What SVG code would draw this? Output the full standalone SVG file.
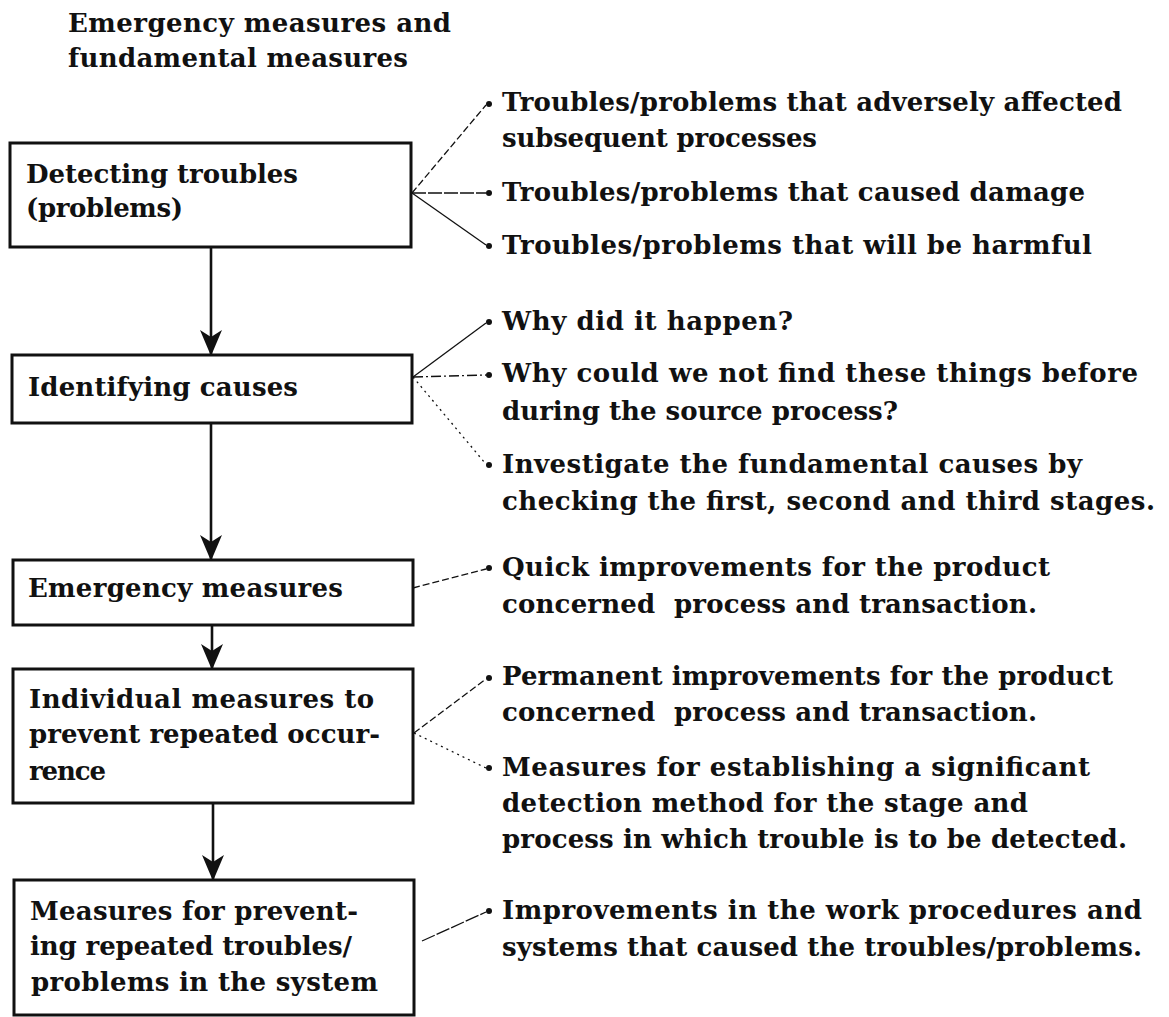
<svg xmlns="http://www.w3.org/2000/svg" width="1169" height="1017" viewBox="0 0 1169 1017">
  <style>
    text { font-family: "DejaVu Serif", "Liberation Serif", serif; font-weight: bold; font-size: 26px; fill: #111; }
    .box { fill: #fff; stroke: #111; stroke-width: 3; }
    .flow { stroke: #111; stroke-width: 2.6; fill: none; marker-end: url(#ah); }
    .lead { stroke: #111; stroke-width: 1.3; fill: none; }
    .long { stroke-dasharray: 14 2; }
    .dash { stroke-dasharray: 7 3; }
    .dashdot { stroke-dasharray: 10 3 2 3; }
    .dot { stroke-dasharray: 2 4; }
    .bullet { fill: #111; }
  </style>
  <defs>
    <marker id="ah" viewBox="0 0 26 22" refX="25" refY="11" markerWidth="26" markerHeight="22" markerUnits="userSpaceOnUse" orient="auto">
      <path d="M0,0 L26,11 L0,22 L7,11 z" fill="#111"/>
    </marker>
  </defs>
  <rect width="1169" height="1017" fill="#fff"/>

  <g id="title">
    <text x="68" y="32" textLength="383" lengthAdjust="spacing">Emergency measures and</text>
    <text x="68" y="67" textLength="340" lengthAdjust="spacing">fundamental measures</text>
  </g>

  <!-- vertical flow and the leader lines out to the bullet notes -->
  <g id="connectors">
    <line class="flow" x1="211" y1="247" x2="211" y2="355"/>
    <line class="flow" x1="211" y1="423" x2="211" y2="560"/>
    <line class="flow" x1="212" y1="625" x2="212" y2="669"/>
    <line class="flow" x1="213" y1="803" x2="213" y2="880"/>

    <line class="lead dash" x1="412" y1="193" x2="486" y2="105"/>
    <line class="lead long" x1="412" y1="193" x2="486" y2="193"/>
    <line class="lead" x1="412" y1="193" x2="486" y2="245"/>

    <line class="lead" x1="413" y1="377" x2="486" y2="323"/>
    <line class="lead dashdot" x1="413" y1="377" x2="486" y2="375"/>
    <line class="lead dot" x1="413" y1="377" x2="485" y2="463"/>

    <line class="lead dash" x1="413" y1="588" x2="486" y2="569"/>

    <line class="lead dash" x1="414" y1="733" x2="486" y2="679"/>
    <line class="lead dot" x1="414" y1="733" x2="486" y2="768"/>

    <line class="lead long" x1="422" y1="941" x2="486" y2="912"/>
  </g>

  <g id="detect">
    <rect class="box" x="10" y="143" width="401" height="104"/>
    <text x="26" y="183" textLength="272" lengthAdjust="spacing">Detecting troubles</text>
    <text x="26" y="217" textLength="157" lengthAdjust="spacing">(problems)</text>
  </g>
  <g id="causes">
    <rect class="box" x="12" y="355" width="400" height="68"/>
    <text x="28" y="396" textLength="270" lengthAdjust="spacing">Identifying causes</text>
  </g>
  <g id="emergency">
    <rect class="box" x="13" y="560" width="400" height="65"/>
    <text x="28" y="597" textLength="315" lengthAdjust="spacing">Emergency measures</text>
  </g>
  <g id="individual">
    <rect class="box" x="13" y="669" width="400" height="134"/>
    <text x="29" y="708" textLength="345" lengthAdjust="spacing">Individual measures to</text>
    <text x="29" y="743" textLength="351" lengthAdjust="spacing">prevent repeated occur-</text>
    <text x="29" y="780" textLength="77" lengthAdjust="spacing">rence</text>
  </g>
  <g id="system">
    <rect class="box" x="14" y="880" width="400" height="135"/>
    <text x="30" y="920" textLength="328" lengthAdjust="spacing">Measures for prevent-</text>
    <text x="30" y="955" textLength="322" lengthAdjust="spacing">ing repeated troubles/</text>
    <text x="31" y="991" textLength="347" lengthAdjust="spacing">problems in the system</text>
  </g>

  <g id="notes-detect">
    <circle class="bullet" cx="489" cy="104" r="3"/>
    <circle class="bullet" cx="489" cy="193" r="3"/>
    <circle class="bullet" cx="489" cy="246" r="3"/>
    <text x="502" y="111" textLength="620" lengthAdjust="spacing">Troubles/problems that adversely affected</text>
    <text x="502" y="147" textLength="315" lengthAdjust="spacing">subsequent processes</text>
    <text x="502" y="201" textLength="583" lengthAdjust="spacing">Troubles/problems that caused damage</text>
    <text x="502" y="254" textLength="590" lengthAdjust="spacing">Troubles/problems that will be harmful</text>
  </g>
  <g id="notes-causes">
    <circle class="bullet" cx="489" cy="322" r="3"/>
    <circle class="bullet" cx="489" cy="375" r="3"/>
    <circle class="bullet" cx="489" cy="465" r="3"/>
    <text x="502" y="330" textLength="291" lengthAdjust="spacing">Why did it happen?</text>
    <text x="502" y="382" textLength="636" lengthAdjust="spacing">Why could we not find these things before</text>
    <text x="502" y="420" textLength="396" lengthAdjust="spacing">during the source process?</text>
    <text x="502" y="473" textLength="580" lengthAdjust="spacing">Investigate the fundamental causes by</text>
    <text x="502" y="510" textLength="653" lengthAdjust="spacing">checking the first, second and third stages.</text>
  </g>
  <g id="notes-emergency">
    <circle class="bullet" cx="489" cy="568" r="3"/>
    <text x="502" y="576" textLength="548" lengthAdjust="spacing">Quick improvements for the product</text>
    <text x="502" y="613" textLength="535" lengthAdjust="spacing" xml:space="preserve">concerned  process and transaction.</text>
  </g>
  <g id="notes-individual">
    <circle class="bullet" cx="489" cy="678" r="3"/>
    <circle class="bullet" cx="489" cy="768" r="3"/>
    <text x="502" y="685" textLength="611" lengthAdjust="spacing">Permanent improvements for the product</text>
    <text x="502" y="721" textLength="535" lengthAdjust="spacing" xml:space="preserve">concerned  process and transaction.</text>
    <text x="502" y="776" textLength="588" lengthAdjust="spacing">Measures for establishing a significant</text>
    <text x="502" y="812" textLength="526" lengthAdjust="spacing">detection method for the stage and</text>
    <text x="502" y="848" textLength="625" lengthAdjust="spacing">process in which trouble is to be detected.</text>
  </g>
  <g id="notes-system">
    <circle class="bullet" cx="489" cy="911" r="3"/>
    <text x="502" y="919" textLength="640" lengthAdjust="spacing">Improvements in the work procedures and</text>
    <text x="502" y="956" textLength="640" lengthAdjust="spacing">systems that caused the troubles/problems.</text>
  </g>
</svg>
